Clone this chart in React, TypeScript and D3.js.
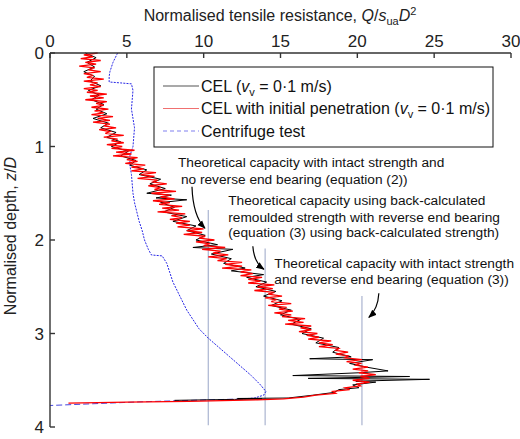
import * as d3 from 'd3';

// depth z/D, resistance Q/(s_ua D^2)
const celRun: [number, number][] = [
  [0.0, 2.3], [0.05, 3.0], [0.1, 2.4], [0.15, 2.9], [0.2, 2.2], [0.25, 2.9], [0.3, 2.6], [0.35, 3.3],
  [0.4, 2.5], [0.45, 3.2], [0.5, 2.7], [0.55, 3.5], [0.6, 3.0], [0.65, 3.7], [0.7, 2.8], [0.75, 3.8],
  [0.8, 3.3], [0.85, 4.3], [0.9, 3.7], [0.95, 4.6], [1.0, 4.0], [1.05, 5.1], [1.1, 4.6], [1.15, 5.6],
  [1.2, 5.2], [1.25, 6.3], [1.3, 5.8], [1.35, 7.2], [1.4, 6.5], [1.45, 7.5], [1.5, 6.3], [1.52, 7.9],
  [1.55, 6.9], [1.57, 8.9], [1.6, 7.2], [1.65, 8.1], [1.7, 7.4], [1.75, 8.9], [1.8, 8.0], [1.85, 9.5],
  [1.9, 8.9], [1.95, 10.1], [2.0, 9.5], [2.05, 10.9], [2.08, 9.3], [2.1, 11.9], [2.15, 10.5], [2.2, 11.8],
  [2.25, 11.3], [2.3, 12.7], [2.33, 11.8], [2.37, 13.9], [2.4, 12.8], [2.45, 14.1], [2.5, 13.4], [2.55, 14.7],
  [2.6, 13.9], [2.65, 15.1], [2.7, 14.4], [2.75, 15.7], [2.8, 15.0], [2.85, 16.3], [2.9, 15.7], [2.95, 17.0],
  [3.0, 16.4], [3.05, 17.8], [3.1, 17.3], [3.15, 18.8], [3.2, 18.4], [3.25, 19.6], [3.27, 16.9], [3.28, 21.0],
  [3.32, 19.5], [3.36, 20.6], [3.4, 22.0], [3.42, 20.1], [3.45, 15.8], [3.46, 23.4], [3.48, 16.8], [3.49, 24.7],
  [3.51, 19.9], [3.52, 21.2], [3.55, 19.7], [3.58, 20.1], [3.6, 18.8], [3.63, 18.5], [3.66, 17.1], [3.69, 15.5],
  [3.695, 12.2], [3.7, 13.8], [3.705, 12.0], [3.715, 8.1],
];

const celPenetration: [number, number][] = [
  [0.0, 3.1], [0.02, 2.2], [0.04, 2.8], [0.06, 2.0], [0.08, 3.3], [0.1, 2.3], [0.12, 3.0], [0.14, 1.9], [0.16, 2.9], [0.18, 2.5],
  [0.2, 3.3], [0.22, 2.2], [0.24, 2.8], [0.26, 2.4], [0.28, 3.5], [0.3, 2.2], [0.32, 3.1], [0.34, 2.6], [0.36, 3.3], [0.38, 2.2],
  [0.4, 3.1], [0.42, 2.4], [0.44, 3.7], [0.46, 2.6], [0.48, 3.5], [0.5, 2.3], [0.52, 3.7], [0.54, 3.0], [0.56, 3.5], [0.58, 2.7],
  [0.6, 3.8], [0.62, 2.9], [0.64, 3.5], [0.66, 2.7], [0.68, 4.1], [0.7, 3.1], [0.72, 3.9], [0.74, 2.8], [0.76, 3.9], [0.78, 3.5],
  [0.8, 4.3], [0.82, 3.2], [0.84, 3.9], [0.86, 3.6], [0.88, 4.8], [0.9, 3.5], [0.92, 4.4], [0.94, 4.0], [0.96, 4.8], [0.98, 3.7],
  [1.0, 4.7], [1.02, 4.0], [1.04, 5.5], [1.06, 4.3], [1.08, 5.3], [1.1, 4.1], [1.12, 5.7], [1.14, 5.0], [1.16, 5.7], [1.18, 4.9],
  [1.2, 6.2], [1.22, 5.3], [1.24, 6.1], [1.26, 5.3], [1.28, 6.9], [1.3, 5.9], [1.32, 6.8], [1.34, 5.7], [1.36, 7.0], [1.38, 6.7],
  [1.4, 7.6], [1.42, 6.4], [1.44, 7.2], [1.46, 6.8], [1.48, 8.2], [1.5, 6.6], [1.52, 7.8], [1.54, 7.2], [1.56, 8.1], [1.58, 6.7],
  [1.6, 7.8], [1.62, 7.1], [1.64, 8.6], [1.66, 7.3], [1.68, 8.4], [1.7, 7.0], [1.72, 8.8], [1.74, 7.9], [1.76, 8.6], [1.78, 7.8],
  [1.8, 9.1], [1.82, 8.2], [1.84, 9.1], [1.86, 8.3], [1.88, 10.0], [1.9, 8.9], [1.92, 9.9], [1.94, 8.7], [1.96, 10.1], [1.98, 9.7],
  [2.0, 10.7], [2.02, 9.5], [2.04, 10.4], [2.06, 10.0], [2.08, 11.4], [2.1, 9.9], [2.12, 11.1], [2.14, 10.6], [2.16, 11.6], [2.18, 10.3],
  [2.2, 11.5], [2.22, 10.9], [2.24, 12.5], [2.26, 11.4], [2.28, 12.5], [2.3, 11.2], [2.32, 13.1], [2.34, 12.4], [2.36, 13.2], [2.38, 12.4],
  [2.4, 13.8], [2.42, 12.9], [2.44, 13.7], [2.46, 12.9], [2.48, 14.6], [2.5, 13.5], [2.52, 14.5], [2.54, 13.3], [2.56, 14.6], [2.58, 14.2],
  [2.6, 15.1], [2.62, 14.0], [2.64, 14.7], [2.66, 14.4], [2.68, 15.7], [2.7, 14.2], [2.72, 15.4], [2.74, 14.9], [2.76, 15.8], [2.78, 14.6],
  [2.8, 15.7], [2.82, 15.1], [2.84, 16.6], [2.86, 15.5], [2.88, 16.5], [2.9, 15.3], [2.92, 17.0], [2.94, 16.3], [2.96, 17.0], [2.98, 16.2],
  [3.0, 17.4], [3.02, 16.7], [3.04, 17.5], [3.06, 16.8], [3.08, 18.3], [3.1, 17.5], [3.12, 18.4], [3.14, 17.5], [3.16, 18.8], [3.18, 18.6],
  [3.2, 19.4], [3.22, 18.6], [3.24, 19.4], [3.26, 19.2], [3.28, 20.3], [3.3, 19.3], [3.32, 20.2], [3.34, 19.9], [3.36, 20.7], [3.38, 19.7],
  [3.4, 20.7], [3.42, 20.1], [3.44, 21.2], [3.46, 20.2], [3.48, 20.8], [3.5, 19.7], [3.52, 20.8], [3.54, 20.0], [3.56, 20.2], [3.58, 19.2],
  [3.6, 19.5], [3.62, 18.4], [3.64, 18.6], [3.66, 17.3], [3.68, 16.5], [3.7, 15.2], [3.71, 13.5], [3.725, 9.0], [3.735, 5.0], [3.745, 1.2],
];

const centrifuge: [number, number][] = [
  [0.0, 4.4], [0.05, 4.25], [0.1, 4.1], [0.15, 4.0], [0.2, 3.9], [0.25, 3.85], [0.31, 3.85], [0.32, 4.6],
  [0.33, 5.3], [0.4, 5.4], [0.5, 5.35], [0.6, 5.3], [0.7, 5.4], [0.8, 5.5], [0.9, 5.45], [1.0, 5.4],
  [1.1, 5.2], [1.2, 5.2], [1.3, 5.3], [1.4, 5.35], [1.5, 5.4], [1.6, 5.5], [1.7, 5.65], [1.8, 5.8],
  [1.9, 6.0], [2.0, 6.15], [2.1, 6.4], [2.16, 6.6], [2.17, 7.3], [2.25, 7.6], [2.35, 7.8], [2.45, 8.0],
  [2.55, 8.3], [2.65, 8.6], [2.75, 8.9], [2.85, 9.3], [2.95, 9.7], [3.05, 10.3], [3.15, 11.0], [3.25, 11.7],
  [3.35, 12.4], [3.45, 13.1], [3.55, 13.7], [3.62, 14.05], [3.66, 13.9], [3.69, 13.3], [3.7, 12.5],
];
// final drop of the centrifuge trace back to zero
const centrifugeTail: [number, number][] = [[3.7, 12.5], [3.73, 6.0], [3.77, 0.0]];

// theoretical capacities and the depth each marker line starts from
const capacityValues = [10.3, 14.0, 20.3];
const capacityTops = [1.68, 2.09, 2.6];
const capacityBottom = 3.98;

const xTicks = [0, 5, 10, 15, 20, 25, 30];
const yTicks = [0, 1, 2, 3, 4];

const font = '"Liberation Sans", Arial, Helvetica, sans-serif';

function VLabel() {
  return (
    <>
      <tspan fontStyle="italic">v</tspan>
      <tspan dy={4} fontSize={11}>v</tspan>
      <tspan dy={-4}> = 0·1 m/s)</tspan>
    </>
  );
}

export default function App() {
  const width = 520;
  const height = 439;
  const x = d3.scaleLinear().domain([0, 30]).range([50, 511]);
  const y = d3.scaleLinear().domain([0, 4]).range([53, 427]);

  const line = d3
    .line<[number, number]>()
    .x((d) => x(d[1]))
    .y((d) => y(d[0]));

  // curved leader arrows, in data units: start, control, tip
  const arrows: [number, number][][] = [
    [[9.24, 1.43], [9.3, 1.74], [10.08, 1.874]],
    [[13.2, 2.066], [13.27, 2.24], [13.92, 2.313]],
    [[21.4, 2.57], [21.34, 2.74], [20.75, 2.827]],
  ];

  const notes: [number, number, string][] = [
    [8.33, 1.22, 'Theoretical capacity with intact strength and'],
    [8.52, 1.4, 'no reverse end bearing (equation (2))'],
    [11.6, 1.63, 'Theoretical capacity using back-calculated'],
    [11.6, 1.81, 'remoulded strength with reverse end bearing'],
    [11.6, 1.97, '(equation (3) using back-calculated strength)'],
    [14.6, 2.3, 'Theoretical capacity with intact strength'],
    [14.6, 2.475, 'and reverse end bearing (equation (3))'],
  ];

  const legendRows = [
    { key: 'cel', color: '#555', dash: undefined, label: <>CEL (<VLabel /></> },
    { key: 'pen', color: '#f07070', dash: undefined, label: <>CEL with initial penetration (<VLabel /></> },
    { key: 'cfg', color: '#8080f0', dash: '4,3', label: <>Centrifuge test</> },
  ];

  return (
    <svg
      width={width}
      height={height}
      style={{ position: 'absolute', left: 0, top: 0, background: '#fff' }}
      fontFamily={font}
    >
      <defs>
        <marker id="tip" viewBox="0 0 10 10" refX="9" refY="5" markerWidth="7" markerHeight="7" orient="auto">
          <path d="M0,1 L10,5 L0,9 Z" fill="#000" />
        </marker>
      </defs>

      {/* theoretical capacity markers */}
      {capacityValues.map((v, i) => (
        <line
          key={v}
          x1={x(v)}
          x2={x(v)}
          y1={y(capacityTops[i])}
          y2={y(capacityBottom)}
          stroke="#aab4d0"
          strokeWidth={1.2}
        />
      ))}

      {/* centrifuge test */}
      <path d={line(centrifuge) ?? ''} fill="none" stroke="#2626e6" strokeWidth={1} strokeDasharray="2,1.2" />
      <path d={line(centrifugeTail) ?? ''} fill="none" stroke="#4646e0" strokeWidth={1} strokeDasharray="6,3" />

      {/* CEL runs */}
      <path d={line(celRun) ?? ''} fill="none" stroke="#000" strokeWidth={1} />
      <path d={line(celPenetration) ?? ''} fill="none" stroke="#ff0000" strokeWidth={1.3} />

      {/* axes */}
      <g stroke="#333" strokeWidth={1.4} fill="none">
        <line x1={x(0)} x2={x(30)} y1={y(0)} y2={y(0)} />
        <line x1={x(0)} x2={x(0)} y1={y(0)} y2={y(4)} />
        {xTicks.map((t) => (
          <line key={t} x1={x(t)} x2={x(t)} y1={y(0)} y2={y(0) + 5} />
        ))}
        {yTicks.map((t) => (
          <line key={t} x1={x(0)} x2={x(0) + 5} y1={y(t)} y2={y(t)} />
        ))}
      </g>
      <g fontSize={17} fill="#222">
        {xTicks.map((t) => (
          <text key={t} x={x(t)} y={y(0) - 6} textAnchor="middle">
            {t}
          </text>
        ))}
        {yTicks.map((t) => (
          <text key={t} x={x(0) - 6} y={y(t) + 6} textAnchor="end">
            {t}
          </text>
        ))}
      </g>

      <text x={280} y={21} fontSize={16} textAnchor="middle" fill="#222">
        Normalised tensile resistance, <tspan fontStyle="italic">Q</tspan>/<tspan fontStyle="italic">s</tspan>
        <tspan dy={4} fontSize={11}>ua</tspan>
        <tspan dy={-4} fontStyle="italic">D</tspan>
        <tspan dy={-6} fontSize={11}>2</tspan>
      </text>
      <text transform="translate(16,236) rotate(-90)" fontSize={16} textAnchor="middle" fill="#222">
        Normalised depth, <tspan fontStyle="italic">z</tspan>/<tspan fontStyle="italic">D</tspan>
      </text>

      {/* legend */}
      <rect x={154} y={67} width={339} height={80} fill="#fff" stroke="#111" strokeWidth={1} />
      {legendRows.map((r, i) => {
        const cy = 86 + i * 22.5;
        return (
          <g key={r.key}>
            <line x1={163} x2={199} y1={cy} y2={cy} stroke={r.color} strokeWidth={1.2} strokeDasharray={r.dash} />
            <text x={201} y={cy + 5.5} fontSize={16} fill="#111">
              {r.label}
            </text>
          </g>
        );
      })}

      {/* annotations */}
      <g fontSize={13.7} fill="#111">
        {notes.map(([nx, ny, t]) => (
          <text key={t} x={x(nx)} y={y(ny)}>
            {t}
          </text>
        ))}
      </g>
      {arrows.map((a, i) => (
        <path
          key={i}
          d={`M${x(a[0][0])},${y(a[0][1])} Q${x(a[1][0])},${y(a[1][1])} ${x(a[2][0])},${y(a[2][1])}`}
          fill="none"
          stroke="#000"
          strokeWidth={1.2}
          markerEnd="url(#tip)"
        />
      ))}
    </svg>
  );
}
